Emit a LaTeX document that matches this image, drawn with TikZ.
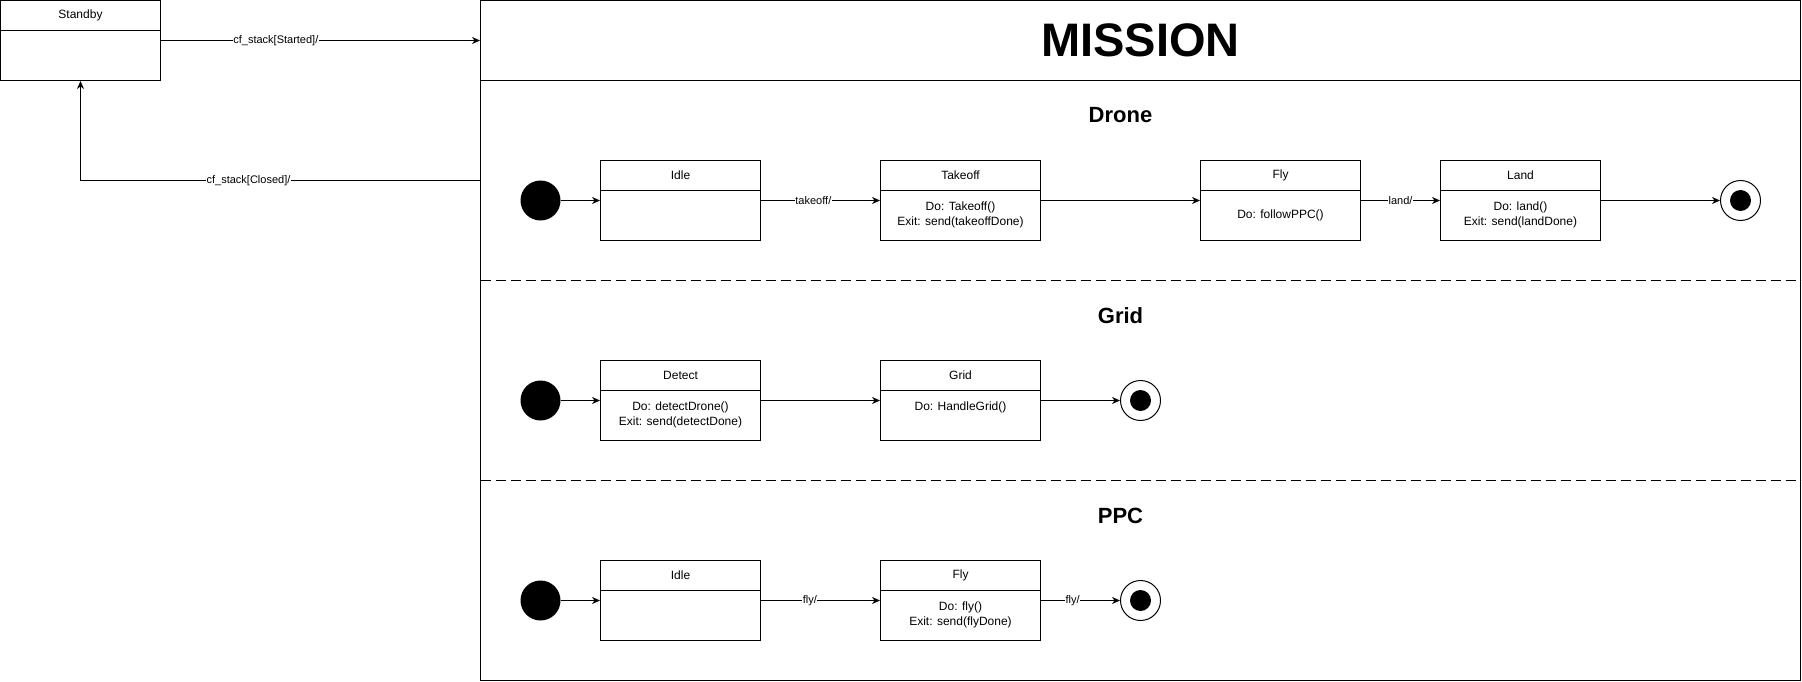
\documentclass[tikz,border=0pt]{standalone}
\usepackage{fontspec}
\setmainfont{Liberation Sans}
\usetikzlibrary{arrows.meta,positioning}
\pgfdeclarelayer{edgelayer}
\pgfdeclarelayer{nodelayer}
\pgfsetlayers{edgelayer,nodelayer,main}
\tikzstyle{statebox}=[rectangle, draw=black, line width=1pt, minimum width=160pt, minimum height=80pt, inner sep=0pt, path picture={\draw[line width=1pt] ([yshift=-30pt]path picture bounding box.north west) -- ([yshift=-30pt]path picture bounding box.north east);}]
\tikzstyle{statename}=[inner sep=0pt, font=\fontsize{12}{14.4}\selectfont]
\tikzstyle{statebody}=[inner sep=0pt, align=center, font=\fontsize{12}{14.4}\selectfont]
\tikzstyle{initstate}=[circle, fill=black, minimum size=40pt, inner sep=0pt]
\tikzstyle{finalstate}=[circle, draw=black, fill=white, line width=1pt, minimum size=40pt, inner sep=0pt, path picture={\fill[black] (path picture bounding box.center) circle (10.5pt);}]
\tikzstyle{arrow}=[-{Stealth[length=8pt, width=7pt]}, draw=black, line width=1pt]
\tikzstyle{edgelabel}=[fill=white, inner sep=0.5pt, font=\fontsize{11}{13}\selectfont]
\tikzstyle{regiontitle}=[inner sep=0pt, font=\fontsize{22}{26}\selectfont\bfseries]
\tikzstyle{separator}=[draw=black, line width=1pt, dash pattern=on 10pt off 5pt]
\begin{document}
\begin{tikzpicture}[x=1pt, y=-1pt]
            \useasboundingbox (-0.5, -0.5) rectangle (1801.5, 681.5);
            \begin{pgfonlayer}{nodelayer}
                \node [style=statebox] (standby) at (80, 40) {};
                \node [style=statename] at ([yshift=-15pt]standby.north) {Standby};
                \node [draw=black, line width=1pt, minimum width=1320pt, minimum height=680pt, inner sep=0pt] (mission) at (1140, 340) {};
                \node [inner sep=0pt, font=\fontsize{47}{52}\selectfont\bfseries] (missiontitle) at (1140, 40) {MISSION};
                % drone region
                \node [style=regiontitle] (dronetitle) at (1120, 115) {Drone};
                \node [style=initstate] (droneinit) at (540, 200) {};
                \node [style=statebox] (droneidle) at (680, 200) {};
                \node [style=statename] at ([yshift=-15pt]droneidle.north) {Idle};
                \node [style=statebox] (takeoff) at (960, 200) {};
                \node [style=statename] at ([yshift=-15pt]takeoff.north) {Takeoff};
                \node [style=statebody] at ([yshift=-55pt]takeoff.north) {Do: Takeoff()\\Exit: send(takeoffDone)};
                \node [style=statebox] (dronefly) at (1280, 200) {};
                \node [style=statename] at ([yshift=-15pt]dronefly.north) {Fly};
                \node [style=statebody] at ([yshift=-55pt]dronefly.north) {Do: followPPC()};
                \node [style=statebox] (land) at (1520, 200) {};
                \node [style=statename] at ([yshift=-15pt]land.north) {Land};
                \node [style=statebody] at ([yshift=-55pt]land.north) {Do: land()\\Exit: send(landDone)};
                \node [style=finalstate] (dronefinal) at (1740, 200) {};
                % grid region
                \node [style=regiontitle] (gridtitle) at (1120, 315) {Grid};
                \node [style=initstate] (gridinit) at (540, 400) {};
                \node [style=statebox] (detect) at (680, 400) {};
                \node [style=statename] at ([yshift=-15pt]detect.north) {Detect};
                \node [style=statebody] at ([yshift=-55pt]detect.north) {Do: detectDrone()\\Exit: send(detectDone)};
                \node [style=statebox] (grid) at (960, 400) {};
                \node [style=statename] at ([yshift=-15pt]grid.north) {Grid};
                \node [style=statebody] at ([yshift=-47.5pt]grid.north) {Do: HandleGrid()};
                \node [style=finalstate] (gridfinal) at (1140, 400) {};
                % ppc region
                \node [style=regiontitle] (ppctitle) at (1120, 515) {PPC};
                \node [style=initstate] (ppcinit) at (540, 600) {};
                \node [style=statebox] (ppcidle) at (680, 600) {};
                \node [style=statename] at ([yshift=-15pt]ppcidle.north) {Idle};
                \node [style=statebox] (ppcfly) at (960, 600) {};
                \node [style=statename] at ([yshift=-15pt]ppcfly.north) {Fly};
                \node [style=statebody] at ([yshift=-55pt]ppcfly.north) {Do: fly()\\Exit: send(flyDone)};
                \node [style=finalstate] (ppcfinal) at (1140, 600) {};
                \coordinate (closedout) at (480, 180);
            \end{pgfonlayer}
            \begin{pgfonlayer}{edgelayer}
                \draw [draw=black, line width=1pt] (480, 80) -- (1800, 80);
                \draw [style=separator] (480, 280) -- (1800, 280);
                \draw [style=separator] (480, 480) -- (1800, 480);
                \draw [style=arrow] (standby.east) -- (standby.east -| mission.west) node [style=edgelabel, pos=0.36] {cf\_stack[Started]/};
                \draw [style=arrow] (closedout) -| (standby.south) node [style=edgelabel, pos=0.29] {cf\_stack[Closed]/};
                \draw [style=arrow] (droneinit) to (droneidle);
                \draw [style=arrow] (droneidle) to node [style=edgelabel, pos=0.44] {takeoff/} (takeoff);
                \draw [style=arrow] (takeoff) to (dronefly);
                \draw [style=arrow] (dronefly) to node [style=edgelabel, pos=0.5] {land/} (land);
                \draw [style=arrow] (land) to (dronefinal);
                \draw [style=arrow] (gridinit) to (detect);
                \draw [style=arrow] (detect) to (grid);
                \draw [style=arrow] (grid) to (gridfinal);
                \draw [style=arrow] (ppcinit) to (ppcidle);
                \draw [style=arrow] (ppcidle) to node [style=edgelabel, pos=0.41] {fly/} (ppcfly);
                \draw [style=arrow] (ppcfly) to node [style=edgelabel, pos=0.4] {fly/} (ppcfinal);
            \end{pgfonlayer}
        \end{tikzpicture}
\end{document}
